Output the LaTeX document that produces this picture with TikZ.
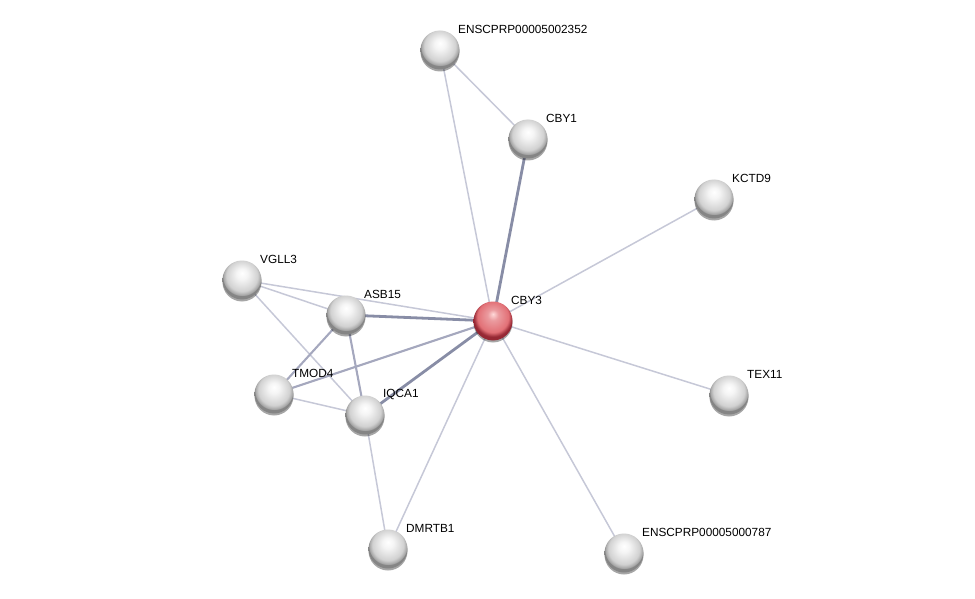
\documentclass[tikz,border=0pt]{standalone}
\usepackage{fontspec}
\setmainfont{Liberation Sans}
\usetikzlibrary{backgrounds,shadows}
\definecolor{edgeL}{RGB}{198,200,215}
\definecolor{edgeM}{RGB}{165,168,190}
\definecolor{edgeD}{RGB}{136,141,166}
\definecolor{redmid}{RGB}{226,112,118}
\definecolor{reddark}{RGB}{150,40,52}
\pgfdeclareradialshading{gball}{\pgfpoint{0bp}{9bp}}{color(0bp)=(white); color(7bp)=(white!96!black); color(20bp)=(white!82!black); color(24bp)=(white!65!black); color(25bp)=(white!52!black); color(50bp)=(white!52!black)}
\pgfdeclareradialshading{rball}{\pgfpoint{0bp}{9bp}}{color(0bp)=(red!15!white); color(7bp)=(redmid!70!white); color(20bp)=(redmid); color(24bp)=(reddark!85!redmid); color(25bp)=(reddark); color(50bp)=(reddark)}
\tikzset{
  prot/.style={circle, minimum size=39pt, inner sep=0pt, shading=gball,
    drop shadow={shadow xshift=0pt, shadow yshift=-2pt, opacity=0.35, fill=black}},
  center/.style={prot, shading=rball},
  lbl/.style={anchor=west, font=\fontsize{11.8}{13}\selectfont, inner sep=0pt, text=black},
  eL/.style={draw=edgeL, line width=1.5pt},
  eM/.style={draw=edgeM, line width=2.1pt},
  eD/.style={draw=edgeD, line width=2.8pt},
}
\begin{document}
\begin{tikzpicture}[x=1pt,y=-1pt]
\useasboundingbox (0,0) rectangle (975,599);
\node[prot] (E2352) at (440,50) {};
\node[prot] (CBY1) at (528,139) {};
\node[prot] (KCTD9) at (714,199) {};
\node[prot] (VGLL3) at (242,280) {};
\node[prot] (ASB15) at (346,315) {};
\node[center] (CBY3) at (493,321) {};
\node[prot] (TMOD4) at (274,394) {};
\node[prot] (IQCA1) at (365,415) {};
\node[prot] (TEX11) at (729,395) {};
\node[prot] (DMRTB1) at (388,549) {};
\node[prot] (E787) at (624,553) {};
\node[lbl] (tE2352) at ([shift={(18,-21)}]E2352) {ENSCPRP00005002352};
\node[lbl] (tCBY1) at ([shift={(18,-21)}]CBY1) {CBY1};
\node[lbl] (tKCTD9) at ([shift={(18,-21)}]KCTD9) {KCTD9};
\node[lbl] (tVGLL3) at ([shift={(18,-21)}]VGLL3) {VGLL3};
\node[lbl] (tASB15) at ([shift={(18,-21)}]ASB15) {ASB15};
\node[lbl] (tCBY3) at ([shift={(18,-21)}]CBY3) {CBY3};
\node[lbl] (tTMOD4) at ([shift={(18,-21)}]TMOD4) {TMOD4};
\node[lbl] (tIQCA1) at ([shift={(18,-21)}]IQCA1) {IQCA1};
\node[lbl] (tTEX11) at ([shift={(18,-21)}]TEX11) {TEX11};
\node[lbl] (tDMRTB1) at ([shift={(18,-21)}]DMRTB1) {DMRTB1};
\node[lbl] (tE787) at ([shift={(18,-21)}]E787) {ENSCPRP00005000787};
\begin{pgfonlayer}{background}
\path[eL] (E2352.center) -- (CBY1.center);
\path[eL] (E2352.center) -- (CBY3.center);
\path[eD] (CBY1.center) -- (CBY3.center);
\path[eL] (KCTD9.center) -- (CBY3.center);
\path[eL] (TEX11.center) -- (CBY3.center);
\path[eL] (E787.center) -- (CBY3.center);
\path[eL] (DMRTB1.center) -- (CBY3.center);
\path[eL] (DMRTB1.center) -- (IQCA1.center);
\path[eL] (VGLL3.center) -- (CBY3.center);
\path[eL] (VGLL3.center) -- (ASB15.center);
\path[eL] (VGLL3.center) -- (IQCA1.center);
\path[eD] (ASB15.center) -- (CBY3.center);
\path[eM] (ASB15.center) -- (TMOD4.center);
\path[eM] (ASB15.center) -- (IQCA1.center);
\path[eM] (TMOD4.center) -- (CBY3.center);
\path[eL] (TMOD4.center) -- (IQCA1.center);
\path[eD] (IQCA1.center) -- (CBY3.center);
\end{pgfonlayer}
\end{tikzpicture}
\end{document}
